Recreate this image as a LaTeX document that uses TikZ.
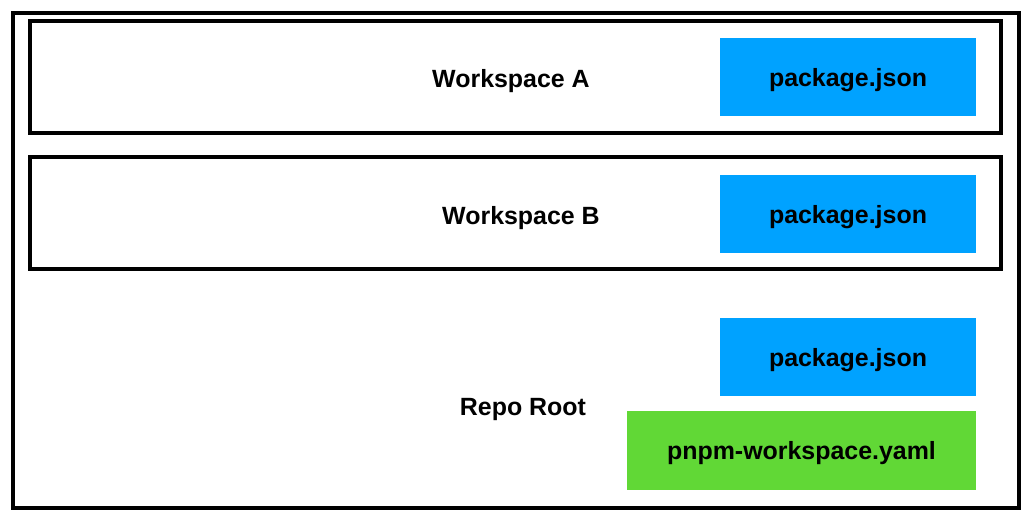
\documentclass[tikz,border=0pt]{standalone}
\usepackage{fontspec}
\setmainfont{Liberation Sans}
\definecolor{pkgblue}{HTML}{00A2FF}
\definecolor{yamlgreen}{HTML}{61D836}
\begin{document}
\begin{tikzpicture}[x=0.75pt,y=-0.75pt,
  frame/.style={draw=black,line width=3pt},
  filebox/.style={draw=none,inner sep=0pt,text height=17.2pt,text depth=3pt,font=\fontsize{18.7}{22}\selectfont\bfseries},
  lbl/.style={inner sep=0pt,text height=17.2pt,text depth=3pt,font=\fontsize{18.7}{22}\selectfont\bfseries}]
\useasboundingbox (0,0) rectangle (1032,521);
\draw[frame] (13,13) rectangle (1019,508);
\draw[frame] (30,21) rectangle (1001,133);
\draw[frame] (30,157) rectangle (1001,269);
\node[filebox,fill=pkgblue,minimum width=256*0.75pt,minimum height=78*0.75pt] (pa) at (848,77) {package.json};
\node[filebox,fill=pkgblue,minimum width=256*0.75pt,minimum height=78*0.75pt] (pb) at (848,214) {package.json};
\node[filebox,fill=pkgblue,minimum width=256*0.75pt,minimum height=78*0.75pt] (pr) at (848,357) {package.json};
\node[filebox,fill=yamlgreen,minimum width=349*0.75pt,minimum height=79*0.75pt] (yaml) at (801.5,450.5) {pnpm-workspace.yaml};
\node[lbl] (wa) at (511,78) {Workspace A};
\node[lbl] (wb) at (521,215) {Workspace B};
\node[lbl] (rr) at (523,406) {Repo Root};
\end{tikzpicture}
\end{document}
